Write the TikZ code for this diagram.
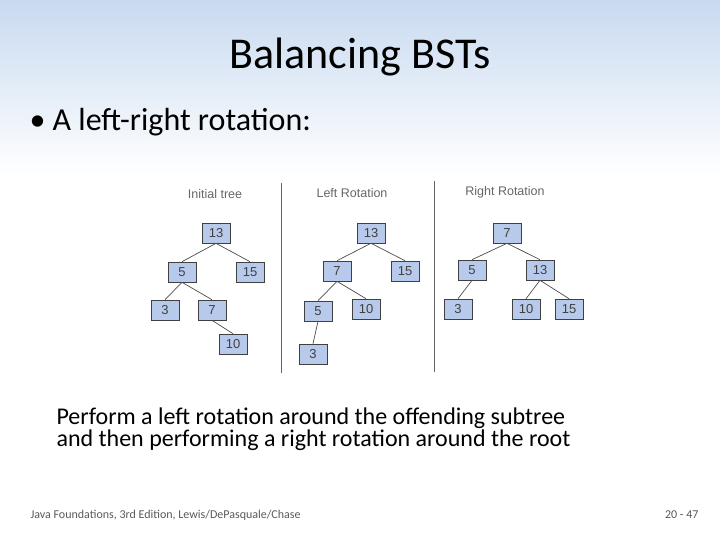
\documentclass[tikz,border=0pt]{standalone}
\usepackage{fontspec}
\setmainfont{Carlito}
\newfontfamily\arl{Liberation Sans}
\definecolor{boxfill}{RGB}{184,202,236}
\definecolor{topbg}{RGB}{200,218,240}
\begin{document}
\begin{tikzpicture}[x=1pt,y=-1pt,
 bx/.style={draw=black!75,line width=0.6pt,fill=boxfill,minimum width=28pt,minimum height=20pt,inner sep=0pt,font=\arl\fontsize{13}{15}\selectfont,text=black!75,
   append after command={[draw=black!60,line width=1.3pt] (\tikzlastnode.north east)++(0.8,1) -- ++(0,-20) -- ++(-27.5,0)}},
 ed/.style={draw=black!70,line width=0.7pt},
 lab/.style={font=\arl\fontsize{12.5}{14}\selectfont,text=black!60}]
\useasboundingbox (0,0) rectangle (720,540);
\shade[top color=topbg,bottom color=white] (0,0) rectangle (720,175);
\node (title) at (360,57) {\fontsize{44}{48}\selectfont Balancing BSTs};
\node[anchor=west] (bul) at (26,122) {\fontsize{32}{36}\selectfont • A left-right rotation:};
\node[anchor=west,align=left] (body) at (53,429) {\fontsize{24}{26}\selectfont Perform a left rotation around the offending subtree\\\fontsize{24}{26}\selectfont and then performing a right rotation around the root};
\node[anchor=west,text=black!65] (foot) at (27,515) {\fontsize{12}{14}\selectfont Java Foundations, 3rd Edition, Lewis/DePasquale/Chase};
\node[anchor=east,text=black!65] (pg) at (702,515) {\fontsize{12}{14}\selectfont 20 - 47};
\node[lab] (l1) at (215,194) {Initial tree};
\node[lab] (l2) at (352,193) {Left Rotation};
\node[lab] (l3) at (505,192) {Right Rotation};
\coordinate (d1a) at (281,183); \coordinate (d1b) at (281,373);
\coordinate (d2a) at (434,181); \coordinate (d2b) at (434,372);
\draw[black!60,line width=0.8pt] (d1a)--(d1b) (d2a)--(d2b);
% initial
\node[bx] (a13) at (216,233) {13};
\node[bx] (a5) at (182,272) {5};
\node[bx] (a15) at (250,272) {15};
\node[bx] (a3) at (165,310) {3};
\node[bx] (a7) at (212,310) {7};
\node[bx] (a10) at (233,344) {10};
\draw[ed] (a13.south)--(a5.north) (a13.south)--(a15.north) (a5.south)--(a3.north) (a5.south)--(a7.north) (a7.south)--(a10.north);
% left
\node[bx] (b13) at (371,233) {13};
\node[bx] (b7) at (337,271) {7};
\node[bx] (b15) at (405,271) {15};
\node[bx] (b5) at (318,311) {5};
\node[bx] (b10) at (366,309) {10};
\node[bx] (b3) at (313,354) {3};
\draw[ed] (b13.south)--(b7.north) (b13.south)--(b15.north) (b7.south)--(b5.north) (b7.south)--(b10.north) (b5.south)--(b3.north);
% right
\node[bx] (c7) at (507,233) {7};
\node[bx] (c5) at (472,270) {5};
\node[bx] (c13) at (540,270) {13};
\node[bx] (c3) at (458,309) {3};
\node[bx] (c10) at (526,309) {10};
\node[bx] (c15) at (569,309) {15};
\draw[ed] (c7.south)--(c5.north) (c7.south)--(c13.north) (c5.south)--(c3.north) (c13.south)--(c10.north) (c13.south)--(c15.north);
\end{tikzpicture}
\end{document}
